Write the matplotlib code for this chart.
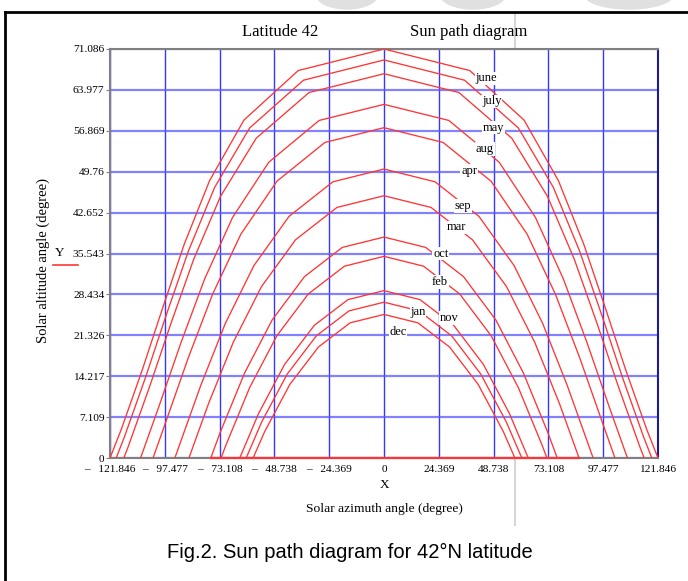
import numpy as np
import matplotlib.pyplot as plt
from matplotlib.patches import Ellipse, Rectangle

# Sun path, latitude 42 N. Afternoon half of each month's path:
# solar noon, then one point per hour, then sunset (altitude 0).
# azimuth in degree from south, altitude in degree
june_az = [0, 38.14, 62.28, 77.53, 88.82, 98.45, 107.58, 116.90, 121.846]
june_alt = [71.086, 67.34, 58.73, 48.23, 37.17, 26.06, 15.21, 4.90, 0]

july_az = [0, 35.84, 59.76, 75.32, 86.92, 96.78, 106.06, 115.52, 119.09]
july_alt = [69.18, 65.66, 57.36, 47.03, 36.03, 24.91, 13.99, 3.58, 0]

may_az = [0, 33.33, 56.84, 72.69, 84.61, 94.71, 104.19, 113.80, 115.69]
may_alt = [66.79, 63.52, 55.57, 45.48, 34.56, 23.43, 12.45, 1.92, 0]

aug_az = [0, 28.84, 51.23, 67.33, 79.74, 90.28, 100.09, 108.25]
aug_alt = [61.46, 58.67, 51.41, 41.82, 31.14, 20.05, 8.96, 0]

apr_az = [0, 26.31, 47.62, 63.67, 76.28, 87.04, 97.02, 102.71]
apr_alt = [57.41, 54.84, 48.10, 38.89, 28.42, 17.41, 6.28, 0]

sep_az = [0, 22.74, 42.24, 57.86, 70.55, 81.50, 91.65, 92.99]
sep_alt = [50.22, 48.00, 41.99, 33.44, 23.40, 12.60, 1.49, 0]

mar_az = [0, 20.91, 39.30, 54.49, 67.09, 78.04, 86.74]
mar_alt = [45.58, 43.55, 37.94, 29.79, 20.06, 9.44, 0]

oct_az = [0, 18.53, 35.34, 49.74, 62.01, 72.81, 77.03]
oct_alt = [38.40, 36.60, 31.53, 23.99, 14.76, 4.48, 0]

feb_az = [0, 17.58, 33.67, 47.67, 59.73, 70.39, 72.45]
feb_alt = [35.05, 33.34, 28.51, 21.23, 12.25, 2.15, 0]

nov_az = [0, 16.00, 30.94, 44.18, 55.77, 64.14]
nov_alt = [29.09, 27.53, 23.08, 16.28, 7.74, 0]

jan_az = [0, 15.55, 30.06, 43.04, 54.46, 61.28]
jan_alt = [27.08, 25.57, 21.24, 14.59, 6.21, 0]

dec_az = [0, 15.09, 29.18, 41.86, 53.08, 58.21]
dec_alt = [24.95, 23.49, 19.28, 12.80, 4.58, 0]

MONTHS = ["june", "july", "may", "aug", "apr", "sep",
          "mar", "oct", "feb", "jan", "nov", "dec"]
AZIMUTH = {"june": june_az, "july": july_az, "may": may_az, "aug": aug_az,
           "apr": apr_az, "sep": sep_az, "mar": mar_az, "oct": oct_az,
           "feb": feb_az, "jan": jan_az, "nov": nov_az, "dec": dec_az}
ALTITUDE = {"june": june_alt, "july": july_alt, "may": may_alt, "aug": aug_alt,
            "apr": apr_alt, "sep": sep_alt, "mar": mar_alt, "oct": oct_alt,
            "feb": feb_alt, "jan": jan_alt, "nov": nov_alt, "dec": dec_alt}

X_TICKS = [-121.846, -97.477, -73.108, -48.738, -24.369, 0,
           24.369, 48.738, 73.108, 97.477, 121.846]
DASH = "\u2013 \u2002"
X_TICK_LABELS = [DASH + "121.846", DASH + "97.477", DASH + "73.108", DASH + "48.738",
                 DASH + "24.369", "0", "24.369", "48.738", "73.108", "97.477", "121.846"]
Y_TICKS = [0, 7.109, 14.217, 21.326, 28.434, 35.543, 42.652, 49.76,
           56.869, 63.977, 71.086]
Y_TICK_LABELS = ["0", "7.109", "14.217", "21.326", "28.434", "35.543", "42.652",
                 "49.76", "56.869", "63.977", "71.086"]

# where the month names sit on the curves (data coords)
LABEL_POS = {"june": (45.4, 66.0), "july": (48.0, 62.0), "may": (48.5, 57.4),
             "aug": (44.9, 53.7), "apr": (37.8, 49.9), "sep": (35.1, 43.8),
             "mar": (32.0, 40.1), "oct": (25.3, 35.5), "feb": (24.9, 30.6),
             "jan": (15.1, 25.4), "nov": (28.9, 24.3), "dec": (6.2, 21.9)}

W, H = 688, 581
SERIF = "Liberation Serif"
RED = "#ff3535"

plt.rcParams["font.family"] = [SERIF, "DejaVu Serif"]

fig = plt.figure(figsize=(W / 100, H / 100), dpi=100)


def fx(px):
    return px / W


def fy(py):
    return 1 - py / H


ax = fig.add_axes([fx(110), fy(458), fx(658) - fx(110), fy(49) - fy(458)])

for month in MONTHS:
    az = np.array(AZIMUTH[month])
    alt = np.array(ALTITUDE[month])
    xs = np.concatenate([-az[::-1], az[1:]])
    ys = np.concatenate([alt[::-1], alt[1:]])
    ax.plot(xs, ys, color=RED, lw=0.95, zorder=3)

# trace running along the horizon between October sunrise and March sunset
ax.plot([-oct_az[-1], mar_az[-1]], [0, 0], color=RED, lw=1.6, zorder=6, clip_on=False)

for month in MONTHS:
    x, y = LABEL_POS[month]
    ax.text(x, y, month, fontsize=9, ha="center", va="center", zorder=5,
            bbox=dict(facecolor="white", edgecolor="none", pad=0.5))

ax.set_xlim(X_TICKS[0], X_TICKS[-1])
ax.set_ylim(Y_TICKS[0], Y_TICKS[-1])
ax.set_xticks(X_TICKS)
ax.set_xticklabels(X_TICK_LABELS, fontsize=8.2)
ax.set_yticks(Y_TICKS)
ax.set_yticklabels(Y_TICK_LABELS, fontsize=8.2)
ax.tick_params(axis="x", length=0, pad=5)
ax.tick_params(axis="y", length=3, color="#808080", pad=1)

ax.xaxis.grid(True, color="#2020ff", lw=1.0, alpha=0.9)
ax.yaxis.grid(True, color="#5858ff", lw=1.6, alpha=0.75)
ax.set_axisbelow(True)

for side in ["left", "top", "bottom"]:
    ax.spines[side].set_color("#808080")
    ax.spines[side].set_linewidth(1.5)
ax.spines["right"].set_color("#1a1a9a")
ax.spines["right"].set_linewidth(1.5)

# titles, axis names, legend
fig.text(fx(280), fy(32), "Latitude 42", fontsize=12, ha="center", va="center")
fig.text(fx(469), fy(32), "Sun path diagram", fontsize=12, ha="center", va="center")
fig.text(fx(43), fy(261), "Solar altitude angle (degree)", fontsize=10.5,
         rotation=90, ha="center", va="center")
fig.text(fx(60), fy(253), "Y", fontsize=9.5, ha="center", va="center")
fig.add_artist(plt.Line2D([fx(53), fx(78)], [fy(265), fy(265)], color=RED, lw=1.2))
fig.text(fx(385), fy(485), "X", fontsize=9.5, ha="center", va="center")
fig.text(fx(384), fy(509), "Solar azimuth angle (degree)", fontsize=9.7,
         ha="center", va="center")

fig.text(fx(350), fy(552), "Fig.2. Sun path diagram for 42\u00b0N latitude",
         fontsize=14.5, family="Liberation Sans", ha="center", va="center")

# the screenshot cuts the last tick label at its right edge
fig.add_artist(Rectangle((fx(681), fy(478)), 1 - fx(681), 16 / H, color="white",
                         zorder=10))

# page frame and the light watermark strokes of the screenshot
fig.add_artist(plt.Line2D([fx(5), fx(5)], [fy(12), 0], color="black", lw=2))
fig.add_artist(plt.Line2D([fx(5), 1], [fy(12), fy(12)], color="black", lw=2))
fig.add_artist(plt.Line2D([fx(515), fx(515)], [fy(14), fy(525)], color="#d6d6d6", lw=1.5,
                          zorder=0))
for cx, wd in [(347, 62), (473, 66), (629, 90)]:
    fig.add_artist(Ellipse((fx(cx), fy(-6)), wd / W, 30 / H, color="#e0e0e0", zorder=0))

fig.savefig("out.png", dpi=100)
